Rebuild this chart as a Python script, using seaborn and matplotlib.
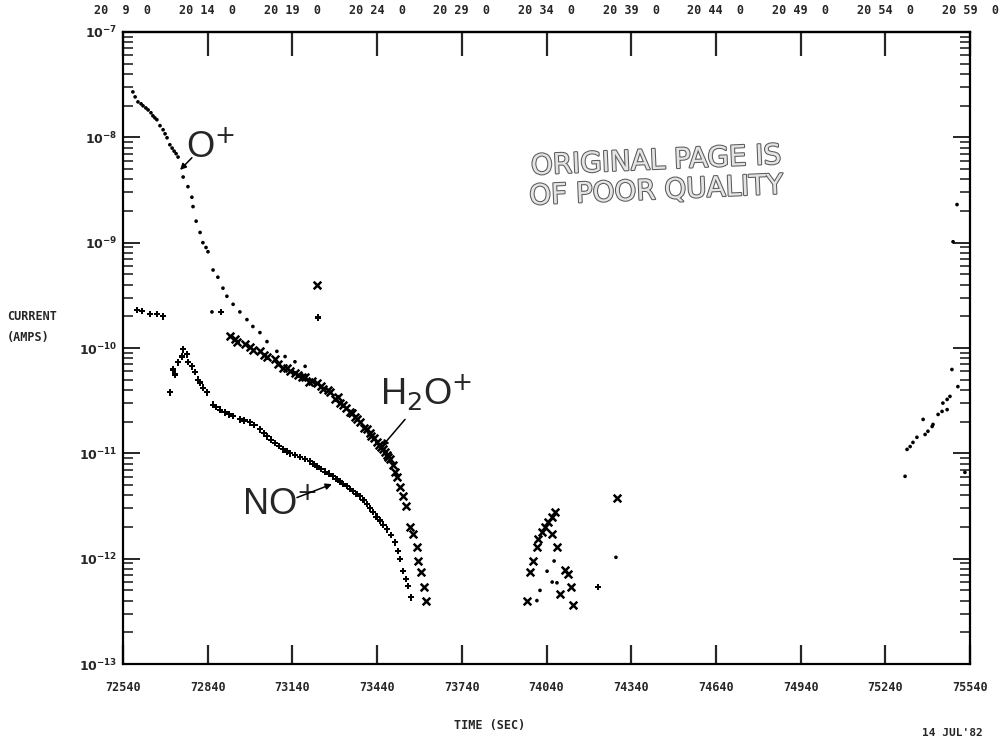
import math
import matplotlib
matplotlib.use('Agg')
import matplotlib.pyplot as plt
import matplotlib.patheffects as pe
from matplotlib.ticker import LogLocator, FixedLocator, FuncFormatter, NullFormatter
import seaborn as sns

# O+ ion current (small dots)
o_time = [72575, 72583, 72593, 72604, 72611, 72621, 72629, 72639, 72646, 72653,
          72660, 72671, 72682, 72689, 72696, 72706, 72714, 72721, 72728, 72735,
          72753, 72770, 72784, 72788, 72799, 72813, 72823, 72834,
          72841, 72859, 72876, 72894, 72908, 72930, 72954, 72979, 73000, 73025,
          73050, 73085, 73114, 73149, 73185, 72855,
          74006, 74017, 74042, 74060, 74067, 74077, 74286,
          75310, 75317, 75328, 75338, 75352, 75374, 75381, 75391, 75406, 75409,
          75427, 75441, 75444, 75459, 75459, 75469, 75476, 75497, 75522, 75480, 75494]
o_current = [2.7e-8, 2.42e-8, 2.17e-8, 2.08e-8, 1.99e-8, 1.9e-8, 1.82e-8, 1.71e-8, 1.6e-8, 1.53e-8,
             1.47e-8, 1.29e-8, 1.18e-8, 1.08e-8, 9.9e-9, 8.5e-9, 7.9e-9, 7.4e-9, 7.0e-9, 6.5e-9,
             4.2e-9, 3.4e-9, 2.7e-9, 2.2e-9, 1.6e-9, 1.25e-9, 1.0e-9, 9.0e-10,
             8.2e-10, 5.5e-10, 4.7e-10, 3.7e-10, 3.1e-10, 2.6e-10, 2.2e-10, 1.86e-10, 1.6e-10, 1.4e-10,
             1.15e-10, 9.3e-11, 8.3e-11, 7.4e-11, 6.7e-11, 2.2e-10,
             4.0e-13, 5.0e-13, 7.6e-13, 6.0e-13, 9.5e-13, 5.9e-13, 1.03e-12,
             6.05e-12, 1.09e-11, 1.16e-11, 1.27e-11, 1.42e-11, 2.1e-11, 1.51e-11, 1.62e-11, 1.8e-11, 1.88e-11,
             2.34e-11, 2.5e-11, 3.0e-11, 3.25e-11, 2.6e-11, 3.47e-11, 6.25e-11, 4.3e-11, 6.6e-12, 1.02e-9, 2.3e-9]

# H2O+ ion current (x markers)
h2o_time = [72919, 72972, 73025, 73078, 73132, 73185, 73227, 73273, 73309, 73344,
            73379, 73415, 73440, 73468, 73486, 73503, 73521, 73532, 73542, 73556,
            73567, 73581, 73585, 73596, 73606, 73613,
            72945, 73000, 73050, 73105, 73160, 73200, 73250, 73290, 73330, 73360,
            73395, 73428, 73455, 73475, 73495,
            72935, 72990, 73040, 73090, 73120, 73150, 73175, 73210, 73240, 73265,
            73300, 73320, 73350, 73370, 73405, 73420, 73448, 73462, 73480, 73510,
            73227,
            73971, 73982, 73992, 74006, 74010, 74024, 74035, 74045, 74060, 74070,
            74060, 74077, 74106, 74116, 74127, 74088, 74134, 74290]
h2o_current = [1.29e-10, 1.08e-10, 9.3e-11, 7.8e-11, 6.1e-11, 5.25e-11, 4.7e-11, 3.8e-11, 3.0e-11, 2.45e-11,
               1.97e-11, 1.55e-11, 1.27e-11, 1.04e-11, 8.8e-12, 6.7e-12, 4.8e-12, 3.9e-12, 3.15e-12, 2.0e-12,
               1.7e-12, 1.29e-12, 9.5e-13, 7.4e-13, 5.4e-13, 4.0e-13,
               1.15e-10, 9.6e-11, 8.2e-11, 6.5e-11, 5.5e-11, 4.8e-11, 4.1e-11, 3.3e-11, 2.7e-11, 2.2e-11,
               1.75e-11, 1.4e-11, 1.15e-11, 9.6e-12, 7.7e-12,
               1.22e-10, 1.02e-10, 8.6e-11, 7.0e-11, 6.4e-11, 5.8e-11, 5.3e-11, 4.9e-11, 4.4e-11, 4.0e-11,
               3.4e-11, 2.9e-11, 2.4e-11, 2.1e-11, 1.7e-11, 1.45e-11, 1.2e-11, 1.1e-11, 9.2e-12, 6.0e-12,
               4.0e-10,
               4.0e-13, 7.4e-13, 9.5e-13, 1.29e-12, 1.53e-12, 1.78e-12, 1.99e-12, 2.22e-12, 2.47e-12, 2.76e-12,
               1.7e-12, 1.29e-12, 7.8e-13, 7.1e-13, 5.4e-13, 4.6e-13, 3.6e-13, 3.8e-12]

# NO+ ion current (plus markers)
no_time = [72590, 72607, 72636, 72660, 72682,
           72706, 72717, 72724, 72735, 72749, 72753, 72767, 72770, 72784, 72795,
           72806, 72813, 72823, 72838, 72859, 72884, 72930, 72954, 72990, 73025,
           73050, 73078, 73107, 73132, 73167, 73202, 73227, 73255, 73284, 73309,
           73333, 73355, 73379, 73404, 73426, 73450, 73475, 73489, 73503, 73514,
           73521, 73532, 73542, 73549, 73560,
           72870, 72900, 72915, 72970, 73005, 73040, 73065, 73092, 73120, 73150,
           73185, 73215, 73240, 73270, 73296, 73320, 73344, 73367, 73392, 73415,
           73438, 73462,
           72887, 73231, 74222]
no_current = [2.3e-10, 2.25e-10, 2.1e-10, 2.1e-10, 2.0e-10,
              3.8e-11, 6.25e-11, 5.6e-11, 7.3e-11, 8.3e-11, 9.7e-11, 8.7e-11, 7.4e-11, 6.7e-11, 5.9e-11,
              5.0e-11, 4.7e-11, 4.2e-11, 3.8e-11, 2.9e-11, 2.6e-11, 2.25e-11, 2.1e-11, 1.97e-11, 1.69e-11,
              1.45e-11, 1.25e-11, 1.09e-11, 1.0e-11, 9.2e-12, 8.4e-12, 7.5e-12, 6.7e-12, 6.05e-12, 5.4e-12,
              4.9e-12, 4.4e-12, 3.9e-12, 3.3e-12, 2.76e-12, 2.3e-12, 1.9e-12, 1.67e-12, 1.43e-12, 1.18e-12,
              9.9e-13, 7.6e-13, 6.4e-13, 5.5e-13, 4.3e-13,
              2.75e-11, 2.45e-11, 2.35e-11, 2.05e-11, 1.85e-11, 1.55e-11, 1.35e-11, 1.17e-11, 1.04e-11, 9.6e-12,
              8.8e-12, 7.9e-12, 7.1e-12, 6.4e-12, 5.7e-12, 5.1e-12, 4.6e-12, 4.1e-12, 3.6e-12, 3.0e-12,
              2.5e-12, 2.1e-12,
              2.2e-10, 1.95e-10, 5.4e-13]

time_ticks = [72540, 72840, 73140, 73440, 73740, 74040, 74340, 74640, 74940, 75240, 75540]
ut_labels = ['20  9  0', '20 14  0', '20 19  0', '20 24  0', '20 29  0', '20 34  0',
             '20 39  0', '20 44  0', '20 49  0', '20 54  0', '20 59  0']

sns.set_theme(style='white')
plt.rcParams['font.family'] = ['DejaVu Sans Mono', 'DejaVu Sans']
plt.rcParams['mathtext.fontset'] = 'dejavusans'

fig = plt.figure(figsize=(10.02, 7.40), dpi=100)
ax = fig.add_axes([123 / 1002, 1 - 664 / 740, 847 / 1002, 632 / 740])

sns.scatterplot(x=o_time, y=o_current, marker='o', s=7, color='black',
                edgecolor='none', ax=ax)
sns.scatterplot(x=h2o_time, y=h2o_current, marker='x', s=30, color='black',
                linewidth=1.8, ax=ax)
sns.scatterplot(x=no_time, y=no_current, marker='P', s=22, color='black',
                edgecolor='none', ax=ax)

ax.set_yscale('log')
ax.set_xlim(72540, 75540)
ax.set_ylim(1e-13, 1e-7)

for side in ax.spines.values():
    side.set_linewidth(1.6)
    side.set_color('black')

ax.xaxis.set_major_locator(FixedLocator(time_ticks))
ax.set_xticklabels([str(t) for t in time_ticks], fontweight='bold', fontsize=8.5)
ax.yaxis.set_major_locator(LogLocator(base=10, numticks=10))
ax.yaxis.set_minor_locator(LogLocator(base=10, subs=range(2, 10), numticks=100))
ax.yaxis.set_major_formatter(FuncFormatter(lambda v, p: r'$\mathbf{10^{%d}}$' % round(math.log10(v))))
ax.yaxis.set_minor_formatter(NullFormatter())

ax.tick_params(axis='x', which='major', direction='in', length=14, width=1.6,
               pad=12, top=False, bottom=True)
ax.tick_params(axis='y', which='major', direction='in', length=12, width=1.4,
               left=True, right=True, labelsize=9, pad=4)
ax.tick_params(axis='y', which='minor', direction='in', length=7, width=1.2,
               left=True, right=True)
ax.grid(False)

top = ax.secondary_xaxis('top')
top.xaxis.set_major_locator(FixedLocator(time_ticks))
top.set_xticklabels(ut_labels, fontweight='bold', fontsize=8.5)
top.tick_params(direction='in', length=17, width=1.6, pad=11)
top.spines['top'].set_linewidth(1.6)

label_font = dict(fontsize=26, family=['Liberation Sans', 'DejaVu Sans'])
arrow = dict(arrowstyle='-|>', color='black', lw=1.1, mutation_scale=9, shrinkA=0, shrinkB=0)
ax.text(72763, 6.5e-9, r'O$^{+}$', ha='left', va='baseline', **label_font)
ax.annotate('', xy=(72742, 4.9e-9), xytext=(72784, 6.4e-9), arrowprops=arrow)
ax.text(73450, 2.9e-11, r'H$_{2}$O$^{+}$', ha='left', va='baseline', **label_font)
ax.annotate('', xy=(73457, 1.16e-11), xytext=(73539, 2.1e-11), arrowprops=arrow)
ax.text(72961, 2.64e-12, r'NO$^{+}$', ha='left', va='baseline', **label_font)
ax.annotate('', xy=(73280, 5.1e-12), xytext=(73156, 3.8e-12), arrowprops=arrow)

stamp = [pe.withStroke(linewidth=1.5, foreground='#5a5a5a')]
fig.text(656 / 1002, 1 - 161 / 740, 'ORIGINAL PAGE IS', ha='center', va='center',
         fontsize=20, family=['DejaVu Sans'], color='#e4e4e4', rotation=2.5,
         path_effects=stamp)
fig.text(656 / 1002, 1 - 191 / 740, 'OF POOR QUALITY', ha='center', va='center',
         fontsize=20, family=['DejaVu Sans'], color='#e4e4e4', rotation=2.5,
         path_effects=stamp)

fig.text(7 / 1002, 1 - 327 / 740, 'CURRENT\n(AMPS)', ha='left', va='center',
         fontsize=8.5, fontweight='bold', linespacing=1.9)
fig.text(490 / 1002, 1 - 725 / 740, 'TIME (SEC)', ha='center', va='center',
         fontsize=8.5, fontweight='bold')
fig.text(952 / 1002, 2 / 740, "14 JUL'82", ha='center', va='bottom',
         fontsize=8, fontweight='bold')

fig.savefig('out.png', dpi=100)
